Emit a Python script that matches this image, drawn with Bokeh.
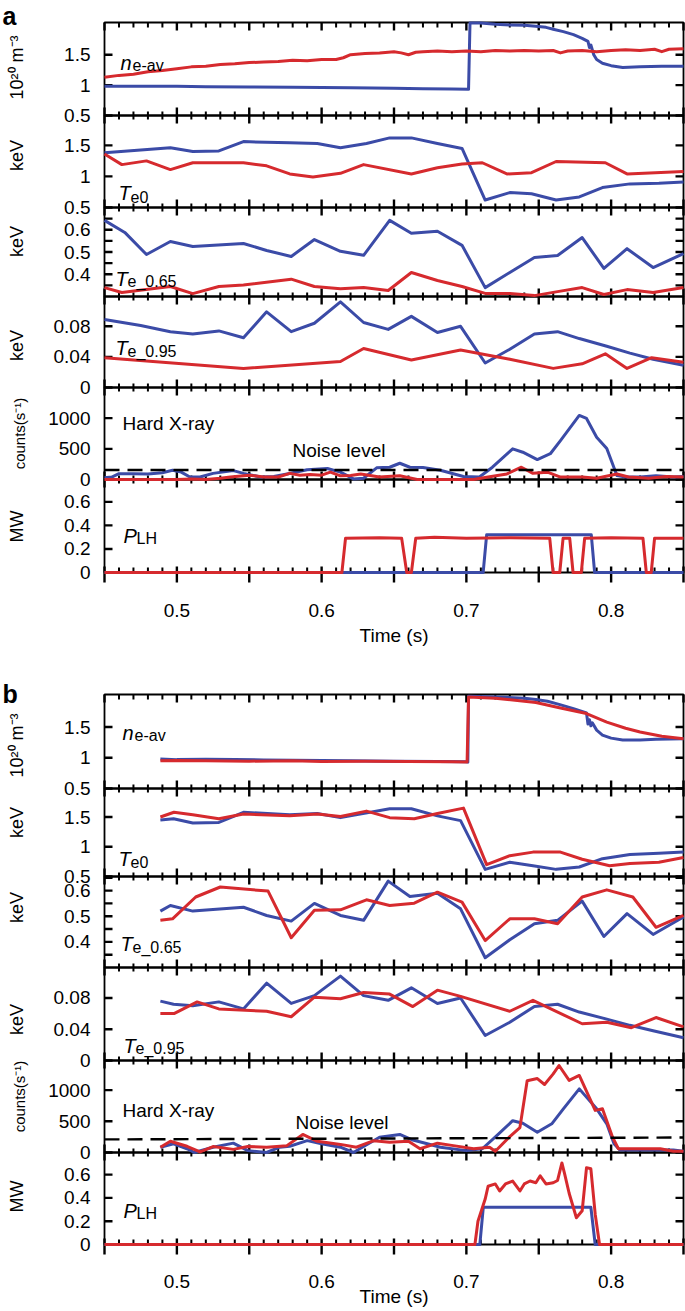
import math
from bokeh.plotting import figure
from bokeh.models import Range1d
from bokeh.core.properties import value
from bokeh.embed import file_html
from bokeh.resources import INLINE

FONT = "Liberation Sans"
BLUE = "#3B4BA7"
RED = "#D62A2E"
NAN = float("nan")

# ---------------- axes definitions ----------------
X_RANGE = (0.45, 0.85)
X_MAJOR = [0.45, 0.5, 0.55, 0.6, 0.65, 0.7, 0.75, 0.8, 0.85]
X_LABELED = [0.5, 0.6, 0.7, 0.8]
X_MINOR = [0.46, 0.47, 0.48, 0.49, 0.51, 0.52, 0.53, 0.54, 0.56, 0.57, 0.58, 0.59,
           0.61, 0.62, 0.63, 0.64, 0.66, 0.67, 0.68, 0.69, 0.71, 0.72, 0.73, 0.74,
           0.76, 0.77, 0.78, 0.79, 0.81, 0.82, 0.83, 0.84]

NE_TICKS = [0.5, 1, 1.5]
TE0_TICKS = [0.5, 1, 1.5]
TE065_TICKS = [0.35, 0.4, 0.45, 0.5, 0.55, 0.6, 0.65]
TE065_SHOWN = [0.4, 0.5, 0.6]
TE095_TICKS = [0, 0.04, 0.08]
HXR_TICKS = [0, 500, 1000]
PLH_TICKS = [0, 0.2, 0.4, 0.6]

# ---------------- panel a data (time s, value) ----------------
ne_a_blue = [(0.45, 0.98), (0.48, 0.98), (0.50, 0.98), (0.52, 0.975), (0.55, 0.97), (0.58, 0.965),
             (0.60, 0.96), (0.62, 0.955), (0.65, 0.95), (0.67, 0.94), (0.69, 0.935), (0.7015, 0.93),
             (0.7025, 2.02), (0.71, 2.02), (0.72, 2.0), (0.73, 1.99), (0.74, 1.985), (0.748, 1.97),
             (0.755, 1.95), (0.76, 1.92), (0.767, 1.88), (0.774, 1.83), (0.78, 1.77), (0.784, 1.72),
             (0.785, 1.62), (0.786, 1.66), (0.788, 1.50), (0.79, 1.42), (0.794, 1.36), (0.80, 1.32),
             (0.808, 1.29), (0.82, 1.30), (0.835, 1.31), (0.85, 1.31)]
ne_a_red = [(0.45, 1.13), (0.46, 1.16), (0.47, 1.18), (0.48, 1.22), (0.49, 1.24), (0.50, 1.27),
            (0.51, 1.30), (0.52, 1.31), (0.53, 1.34), (0.54, 1.35), (0.55, 1.37), (0.56, 1.38),
            (0.57, 1.39), (0.58, 1.41), (0.59, 1.40), (0.60, 1.42), (0.61, 1.42), (0.615, 1.45),
            (0.62, 1.50), (0.63, 1.52), (0.64, 1.53), (0.65, 1.55), (0.655, 1.53), (0.66, 1.50),
            (0.665, 1.54), (0.67, 1.55), (0.68, 1.56), (0.69, 1.55), (0.70, 1.56), (0.71, 1.55),
            (0.72, 1.57), (0.73, 1.56), (0.74, 1.57), (0.75, 1.56), (0.76, 1.57), (0.765, 1.53),
            (0.77, 1.56), (0.78, 1.57), (0.79, 1.55), (0.80, 1.57), (0.81, 1.58), (0.82, 1.57),
            (0.83, 1.59), (0.835, 1.55), (0.84, 1.59), (0.85, 1.60)]
te0_a_blue = [(0.45, 1.38), (0.4955, 1.46), (0.511, 1.40), (0.529, 1.41), (0.546, 1.56), (0.578, 1.54),
              (0.597, 1.53), (0.613, 1.46), (0.631, 1.53), (0.647, 1.62), (0.662, 1.62), (0.68, 1.53),
              (0.697, 1.45), (0.713, 0.62), (0.73, 0.74), (0.745, 0.72), (0.762, 0.62), (0.778, 0.67),
              (0.794, 0.82), (0.813, 0.88), (0.833, 0.89), (0.85, 0.91)]
te0_a_red = [(0.45, 1.36), (0.462, 1.19), (0.479, 1.25), (0.4955, 1.11), (0.511, 1.22), (0.546, 1.22),
             (0.562, 1.17), (0.578, 1.04), (0.594, 0.99), (0.613, 1.05), (0.629, 1.19), (0.662, 1.04),
             (0.68, 1.14), (0.697, 1.20), (0.711, 1.22), (0.728, 1.04), (0.745, 1.06), (0.762, 1.24),
             (0.796, 1.22), (0.811, 1.04), (0.85, 1.08)]
te065_a_blue = [(0.45, 0.642), (0.464, 0.588), (0.479, 0.489), (0.4955, 0.547), (0.511, 0.525),
                (0.546, 0.538), (0.562, 0.507), (0.579, 0.48), (0.595, 0.556), (0.613, 0.503),
                (0.629, 0.485), (0.647, 0.642), (0.662, 0.584), (0.68, 0.593), (0.697, 0.53),
                (0.713, 0.34), (0.73, 0.408), (0.747, 0.475), (0.763, 0.484), (0.78, 0.565),
                (0.795, 0.426), (0.811, 0.515), (0.829, 0.43), (0.85, 0.493)]
te065_a_red = [(0.45, 0.34), (0.462, 0.318), (0.4955, 0.345), (0.511, 0.313), (0.529, 0.345),
               (0.546, 0.352), (0.579, 0.378), (0.595, 0.345), (0.613, 0.335), (0.629, 0.34),
               (0.646, 0.327), (0.662, 0.408), (0.68, 0.372), (0.697, 0.345), (0.713, 0.314),
               (0.73, 0.314), (0.747, 0.304), (0.763, 0.322), (0.78, 0.34), (0.795, 0.309),
               (0.811, 0.331), (0.829, 0.318), (0.85, 0.34)]
te095_a_blue = [(0.45, 0.089), (0.475, 0.081), (0.4955, 0.073), (0.511, 0.070), (0.529, 0.074),
                (0.546, 0.065), (0.562, 0.099), (0.579, 0.073), (0.595, 0.084), (0.613, 0.112),
                (0.629, 0.085), (0.646, 0.076), (0.662, 0.093), (0.68, 0.072), (0.696, 0.08),
                (0.713, 0.032), (0.73, 0.05), (0.747, 0.07), (0.763, 0.073), (0.778, 0.064),
                (0.797, 0.054), (0.813, 0.045), (0.829, 0.037), (0.85, 0.029)]
te095_a_red = [(0.45, 0.039), (0.546, 0.025), (0.613, 0.034), (0.629, 0.051), (0.662, 0.036),
               (0.696, 0.049), (0.73, 0.037), (0.76, 0.025), (0.78, 0.031), (0.796, 0.044),
               (0.811, 0.025), (0.828, 0.039), (0.85, 0.033)]
hxr_a_blue = [(0.45, 30), (0.455, 40), (0.46, 95), (0.47, 95), (0.48, 90), (0.49, 110), (0.497, 150),
              (0.503, 120), (0.509, 40), (0.516, 40), (0.525, 100), (0.539, 145), (0.546, 100),
              (0.558, 40), (0.567, 50), (0.577, 95), (0.59, 160), (0.604, 180), (0.613, 120),
              (0.622, 10), (0.629, 20), (0.638, 190), (0.647, 200), (0.654, 265), (0.661, 200),
              (0.67, 195), (0.682, 150), (0.698, 50), (0.709, 40), (0.718, 200), (0.732, 500),
              (0.739, 445), (0.749, 325), (0.758, 420), (0.765, 635), (0.778, 1045), (0.783, 995),
              (0.79, 690), (0.797, 505), (0.804, 65), (0.81, 40), (0.82, 40), (0.831, 60),
              (0.843, 40), (0.85, 50)]
hxr_a_red = [(0.45, 0), (0.50, 0), (0.51, 10), (0.52, 0), (0.53, 20), (0.537, 40), (0.55, 70),
             (0.56, 40), (0.57, 40), (0.578, 100), (0.585, 70), (0.592, 80), (0.60, 70), (0.606, 120),
             (0.613, 60), (0.62, 65), (0.627, 90), (0.64, 40), (0.654, 60), (0.666, 0), (0.705, 0),
             (0.715, 40), (0.728, 90), (0.738, 200), (0.746, 100), (0.756, 120), (0.765, 40),
             (0.78, 40), (0.79, 20), (0.804, 90), (0.812, 40), (0.826, 20), (0.838, 50), (0.85, 40)]
noise_a = [(0.45, 155), (0.85, 155)]
plh_a_blue = [(0.45, 0), (0.7116, 0), (0.714, 0.32), (0.7863, 0.32), (0.7886, 0), (0.85, 0)]
plh_a_red = [(0.45, 0), (0.614, 0), (0.6165, 0.29), (0.64, 0.295), (0.6553, 0.29), (0.6588, 0),
             (0.662, 0), (0.665, 0.29), (0.678, 0.30), (0.70, 0.29), (0.73, 0.295), (0.7576, 0.29),
             (0.7599, 0), (0.7645, 0), (0.7668, 0.29), (0.7714, 0.29), (0.7737, 0), (0.7794, 0),
             (0.7817, 0.29), (0.80, 0.295), (0.822, 0.29), (0.8243, 0), (0.8277, 0), (0.830, 0.29),
             (0.85, 0.29)]

# ---------------- panel b data (time s, value) ----------------
ne_b_blue = [(0.4886, 0.98), (0.50, 0.97), (0.52, 0.975), (0.54, 0.97), (0.56, 0.965), (0.58, 0.96),
             (0.60, 0.955), (0.62, 0.95), (0.65, 0.945), (0.68, 0.94), (0.70, 0.935), (0.701, 0.93),
             (0.7015, 2.0), (0.72, 1.99), (0.74, 1.97), (0.748, 1.95), (0.756, 1.92), (0.764, 1.87),
             (0.774, 1.80), (0.783, 1.73), (0.784, 1.55), (0.785, 1.62), (0.786, 1.52), (0.787, 1.57),
             (0.79, 1.45), (0.794, 1.37), (0.80, 1.32), (0.808, 1.29), (0.82, 1.29), (0.831, 1.30),
             (0.85, 1.31)]
ne_b_red = [(0.4886, 0.95), (0.50, 0.955), (0.52, 0.95), (0.55, 0.945), (0.58, 0.95), (0.60, 0.94),
            (0.63, 0.945), (0.66, 0.94), (0.69, 0.935), (0.7005, 0.93), (0.7015, 1.99), (0.72, 1.97),
            (0.748, 1.90), (0.765, 1.81), (0.783, 1.72), (0.797, 1.58), (0.81, 1.48), (0.82, 1.42),
            (0.835, 1.35), (0.85, 1.31)]
te0_b_blue = [(0.4886, 1.45), (0.4977, 1.47), (0.511, 1.40), (0.529, 1.41), (0.546, 1.58), (0.578, 1.54),
              (0.597, 1.56), (0.613, 1.49), (0.647, 1.64), (0.662, 1.64), (0.68, 1.52), (0.696, 1.44),
              (0.713, 0.62), (0.73, 0.74), (0.746, 0.68), (0.762, 0.62), (0.778, 0.66), (0.794, 0.80),
              (0.813, 0.87), (0.833, 0.89), (0.85, 0.91)]
te0_b_red = [(0.4886, 1.50), (0.498, 1.58), (0.511, 1.54), (0.529, 1.47), (0.546, 1.55), (0.578, 1.52),
             (0.597, 1.55), (0.613, 1.51), (0.631, 1.60), (0.647, 1.49), (0.664, 1.47), (0.68, 1.56),
             (0.698, 1.65), (0.714, 0.70), (0.73, 0.85), (0.746, 0.91), (0.765, 0.91), (0.78, 0.79),
             (0.799, 0.68), (0.813, 0.72), (0.833, 0.74), (0.85, 0.82)]
te065_b_blue = [(0.4886, 0.52), (0.4955, 0.542), (0.511, 0.52), (0.546, 0.535), (0.562, 0.503),
                (0.579, 0.481), (0.595, 0.55), (0.613, 0.503), (0.629, 0.484), (0.646, 0.637),
                (0.661, 0.577), (0.68, 0.59), (0.696, 0.529), (0.713, 0.338), (0.73, 0.408),
                (0.747, 0.471), (0.763, 0.484), (0.78, 0.559), (0.795, 0.421), (0.811, 0.51),
                (0.829, 0.429), (0.85, 0.497)]
te065_b_red = [(0.4886, 0.484), (0.497, 0.49), (0.513, 0.575), (0.53, 0.614), (0.563, 0.598),
               (0.579, 0.416), (0.595, 0.523), (0.613, 0.525), (0.631, 0.564), (0.647, 0.542),
               (0.664, 0.551), (0.68, 0.594), (0.697, 0.555), (0.713, 0.405), (0.73, 0.49),
               (0.747, 0.49), (0.763, 0.471), (0.78, 0.575), (0.797, 0.603), (0.815, 0.575),
               (0.831, 0.457), (0.85, 0.503)]
te095_b_blue = [(0.4886, 0.076), (0.4977, 0.072), (0.511, 0.070), (0.529, 0.075), (0.546, 0.066),
                (0.562, 0.099), (0.579, 0.073), (0.595, 0.083), (0.613, 0.108), (0.629, 0.083),
                (0.646, 0.077), (0.662, 0.093), (0.68, 0.073), (0.696, 0.08), (0.713, 0.032),
                (0.73, 0.049), (0.747, 0.069), (0.763, 0.072), (0.778, 0.062), (0.797, 0.053),
                (0.813, 0.045), (0.829, 0.038), (0.85, 0.029)]
te095_b_red = [(0.4886, 0.06), (0.498, 0.06), (0.514, 0.075), (0.529, 0.066), (0.562, 0.063),
               (0.579, 0.056), (0.595, 0.081), (0.613, 0.079), (0.629, 0.087), (0.647, 0.085),
               (0.663, 0.069), (0.68, 0.09), (0.696, 0.082), (0.73, 0.063), (0.746, 0.077),
               (0.78, 0.047), (0.797, 0.049), (0.814, 0.042), (0.831, 0.055), (0.85, 0.043)]
hxr_b_blue = [(0.4886, 85), (0.4977, 140), (0.507, 60), (0.512, 0), (0.525, 85), (0.539, 150),
              (0.549, 30), (0.562, 0), (0.571, 85), (0.578, 100), (0.59, 190), (0.60, 140),
              (0.613, 85), (0.622, 0), (0.629, 95), (0.64, 245), (0.654, 290), (0.663, 200),
              (0.673, 140), (0.682, 85), (0.70, 30), (0.711, 60), (0.721, 270), (0.732, 510),
              (0.739, 470), (0.749, 325), (0.759, 460), (0.767, 700), (0.778, 1020), (0.79, 700),
              (0.797, 460), (0.802, 140), (0.806, 40), (0.82, 40), (0.843, 40), (0.85, 20)]
hxr_b_red = [(0.4886, 85), (0.4955, 180), (0.507, 100), (0.516, 10), (0.525, 95), (0.539, 50),
             (0.549, 95), (0.562, 85), (0.576, 110), (0.587, 290), (0.597, 180), (0.613, 130),
             (0.624, 85), (0.636, 190), (0.647, 165), (0.66, 180), (0.668, 60), (0.68, 150),
             (0.691, 110), (0.705, 60), (0.716, 85), (0.72, 20), (0.73, 255), (0.737, 400),
             (0.742, 1150), (0.749, 1185), (0.754, 1090), (0.76, 1260), (0.764, 1395), (0.771, 1155),
             (0.778, 1235), (0.789, 675), (0.794, 700), (0.801, 245), (0.805, 60), (0.82, 60),
             (0.834, 60), (0.843, 20), (0.85, 20)]
noise_b = [(0.45, 210), (0.85, 240)]
plh_b_blue = [(0.45, 0), (0.7093, 0), (0.7117, 0.32), (0.786, 0.32), (0.789, 0), (0.85, 0)]
plh_b_red = [(0.45, 0), (0.7059, 0), (0.708, 0.2), (0.713, 0.39), (0.715, 0.50), (0.72, 0.52),
             (0.723, 0.46), (0.727, 0.52), (0.732, 0.545), (0.737, 0.46), (0.74, 0.52), (0.744, 0.545),
             (0.748, 0.53), (0.751, 0.59), (0.755, 0.52), (0.76, 0.53), (0.763, 0.55), (0.766, 0.70),
             (0.768, 0.60), (0.771, 0.44), (0.776, 0.23), (0.78, 0.29), (0.783, 0.66), (0.786, 0.65),
             (0.789, 0.26), (0.792, 0), (0.85, 0)]

# ---------------- layout (canvas pixels, measured from the top-left) ----------------
CW, CH = 685, 1311
FL, FR = 104, 683
KX = (X_RANGE[1] - X_RANGE[0]) / (FR - FL)
A_EDGES = [22, 115, 207, 296, 387, 479, 572]
B_EDGES = [694, 788, 876, 967, 1060, 1152, 1244]
A_YRANGES = [(0.5, 2.03), (0.5, 1.98), (0.3, 0.7), (0, 0.119), (0, 1500), (0, 0.79)]
B_YRANGES = [(0.5, 2.03), (0.5, 1.98), (0.3, 0.655), (0, 0.119), (0, 1475), (0, 0.79)]
A_TITLE_Y = [67, 155, 241, 345, 433, 526]
B_TITLE_Y = [745, 822, 907, 1019, 1096, 1196]
NE_T = "10\u00b2\u2070 m\u207b\u00b3"
CNT_T = "counts(s\u207b\u00b9)"
TITLES = [(NE_T, 18, 16), ("keV", 18, 16), ("keV", 18, 16), ("keV", 18, 16),
          (CNT_T, 15, 19), ("MW", 18, 16)]
TICKS = [(NE_TICKS, NE_TICKS), (TE0_TICKS, TE0_TICKS), (TE065_TICKS, TE065_SHOWN),
         (TE095_TICKS, TE095_TICKS), (HXR_TICKS, HXR_TICKS), (PLH_TICKS, PLH_TICKS)]
# in-panel annotations: (dx from frame left, dy of baseline from frame top)
A_POS = dict(n=(16, 40), n_sub=(28, 43), t0=(14, 77), t0_sub=(26, 81),
             t65=(11, 71), t65_sub=(23, 74), t95=(11, 51), t95_sub=(23, 55),
             hxr=(18, 36), noise=(188, 63), p=(19, 56), p_sub=(32, 59))
B_POS = dict(n=(18, 38), n_sub=(30, 41), t0=(14, 70), t0_sub=(26, 73),
             t65=(16, 67), t65_sub=(28, 71), t95=(19, 78), t95_sub=(31, 81),
             hxr=(18, 50), noise=(191, 62), p=(19, 58), p_sub=(32, 61))

p = figure(width=CW, height=CH, x_range=Range1d(0, CW), y_range=Range1d(0, CH),
           min_border=0, x_axis_location=None, y_axis_location=None,
           toolbar_location=None, output_backend="svg")
p.outline_line_color = None
p.grid.visible = False
p.background_fill_color = "white"
p.border_fill_color = "white"
# time axis scale shared by all sub-panels
p.extra_x_ranges = {"t": Range1d(X_RANGE[0] - FL * KX, X_RANGE[0] + (CW - FL) * KX)}


def Y(yc):
    """canvas y (from top) -> main range value"""
    return CH - yc


def txt(xs, ys, texts, size, align="left", baseline="alphabetic", style="normal", angle=0.0,
        xr="default", yr="default"):
    p.text(x=xs, y=ys, text=texts, text_font=value(FONT), text_font_size=value(f"{size}px"),
           text_font_style=value(style), text_align=value(align), text_baseline=value(baseline),
           angle=angle, text_color="black", x_range_name=xr, y_range_name=yr)


def broken_line(xs0, ys0, xs1, ys1, width, xr="default", yr="default"):
    """many short strokes drawn as one line broken by NaN gaps"""
    X, Yv = [], []
    for a, b, c, d in zip(xs0, ys0, xs1, ys1):
        X += [a, c, NAN]
        Yv += [b, d, NAN]
    p.line(X, Yv, line_color="black", line_width=width, line_cap="butt",
           x_range_name=xr, y_range_name=yr)


def xticks(vals, width, y_a, y_b):
    n = len(vals)
    broken_line(vals, [Y(y_a)] * n, vals, [Y(y_b)] * n, width, xr="t")


def yticks(vals, x_a, x_b, name):
    m = len(vals)
    broken_line([x_a] * m, vals, [x_b] * m, vals, 2.4, yr=name)


def build_panel(tag, edges, yranges, title_y, series, pos, xlab_base, time_base, letter, letter_base):
    tops, bots = edges[:-1], edges[1:]
    names = []
    for i in range(6):
        lo, hi = yranges[i]
        s = (hi - lo) / (bots[i] - tops[i])
        name = f"{tag}{i}"
        p.extra_y_ranges[name] = Range1d(lo + (bots[i] - CH) * s, lo + bots[i] * s)
        names.append(name)
        # frame
        p.quad(left=[FL], right=[FR], top=[Y(tops[i])], bottom=[Y(bots[i])],
               fill_color=None, line_color="black", line_width=1.8)
        # y ticks (inward, both sides) and labels
        yt, shown = TICKS[i]
        yticks(yt, FL, FL + 8, name)
        yticks(yt, FR, FR - 8, name)
        lab = [v for v in yt if v in shown]
        txt([FL - 14] * len(lab), lab, ["%g" % v for v in lab], 19, align="right",
            baseline="middle", yr=name)
        # axis title
        ttl, tsz, tx = TITLES[i]
        txt([tx], [Y(title_y[i])], [ttl], tsz, align="center", baseline="middle",
            angle=math.pi / 2)

    # x ticks on every horizontal frame edge (canvas rows, downwards positive)
    for k, e in enumerate(edges):
        if k == 0:
            mj, mn = (e, e + 8), (e, e + 5)
        elif k == 6:
            mj, mn = (e - 6, e + 10), (e - 5, e)
        else:
            mj, mn = (e - 8, e + 8), (e - 4, e + 4)
        xticks(X_MAJOR, 2.4, *mj)
        xticks(X_MINOR, 2.0, *mn)
    # x tick labels and title
    txt(X_LABELED, [Y(xlab_base)] * len(X_LABELED), ["%g" % v for v in X_LABELED], 19,
        align="center", xr="t")
    txt([(X_RANGE[0] + X_RANGE[1]) / 2], [Y(time_base)], ["Time (s)"], 19, align="center", xr="t")
    # panel letter
    txt([2], [Y(letter_base)], [letter], 25, style="bold")

    # data
    for i, pairs in enumerate(series):
        for data, color, dash in pairs:
            if dash:
                p.line([t for t, _ in data], [v for _, v in data], line_color="black",
                       line_width=2.4, line_dash="15 8", x_range_name="t", y_range_name=names[i])
            else:
                p.line([t for t, _ in data], [v for _, v in data], line_color=color,
                       line_width=3, line_join="round", x_range_name="t", y_range_name=names[i])

    # in-panel annotations
    def at(key, i):
        dx, dy = pos[key]
        return [FL + dx], [Y(tops[i] + dy)]
    for key, i, text, size, style in [("n", 0, "n", 20, "italic"), ("n_sub", 0, "e-av", 16, "normal"),
                                      ("t0", 1, "T", 20, "italic"), ("t0_sub", 1, "e0", 16, "normal"),
                                      ("t65", 2, "T", 20, "italic"), ("t65_sub", 2, "e_0.65", 16, "normal"),
                                      ("t95", 3, "T", 20, "italic"), ("t95_sub", 3, "e_0.95", 16, "normal"),
                                      ("hxr", 4, "Hard X-ray", 19, "normal"),
                                      ("noise", 4, "Noise level", 19, "normal"),
                                      ("p", 5, "P", 20, "italic"), ("p_sub", 5, "LH", 16, "normal")]:
        xx, yy = at(key, i)
        txt(xx, yy, [text], size, style=style)


series_a = [
    [(ne_a_blue, BLUE, False), (ne_a_red, RED, False)],
    [(te0_a_blue, BLUE, False), (te0_a_red, RED, False)],
    [(te065_a_blue, BLUE, False), (te065_a_red, RED, False)],
    [(te095_a_blue, BLUE, False), (te095_a_red, RED, False)],
    [(hxr_a_blue, BLUE, False), (hxr_a_red, RED, False), (noise_a, "black", True)],
    [(plh_a_blue, BLUE, False), (plh_a_red, RED, False)],
]
series_b = [
    [(ne_b_blue, BLUE, False), (ne_b_red, RED, False)],
    [(te0_b_blue, BLUE, False), (te0_b_red, RED, False)],
    [(te065_b_blue, BLUE, False), (te065_b_red, RED, False)],
    [(te095_b_blue, BLUE, False), (te095_b_red, RED, False)],
    [(hxr_b_blue, BLUE, False), (hxr_b_red, RED, False), (noise_b, "black", True)],
    [(plh_b_blue, BLUE, False), (plh_b_red, RED, False)],
]

build_panel("a", A_EDGES, A_YRANGES, A_TITLE_Y, series_a, A_POS, 610, 635, "a", 15)
build_panel("b", B_EDGES, B_YRANGES, B_TITLE_Y, series_b, B_POS, 1281, 1296, "b", 693)

open("out.html", "w").write(file_html(p, INLINE))
